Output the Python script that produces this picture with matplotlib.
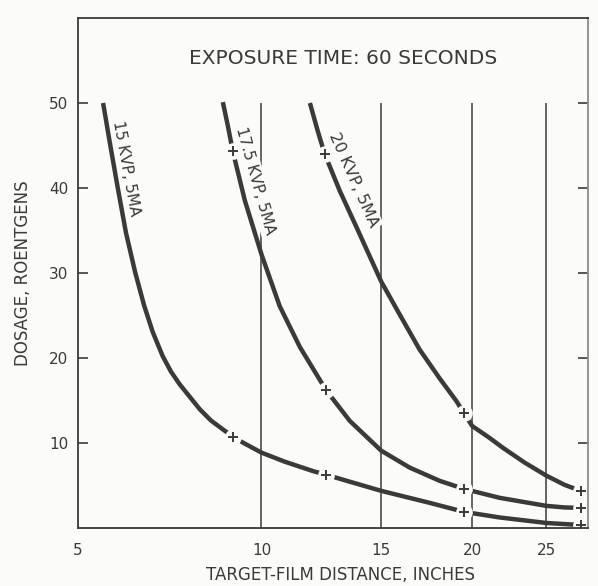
import numpy as np
import matplotlib
matplotlib.use("Agg")
import matplotlib.pyplot as plt
from matplotlib.ticker import NullLocator

# curva 15 KVP, 5 MA
x15 = [5.53, 5.68, 5.86, 6.05, 6.27, 6.49, 6.71, 6.97, 7.19, 7.43, 7.72, 8.01, 8.34,
       8.71, 9.03, 9.36, 10.0, 10.85, 11.95, 12.5, 15.0, 17.52, 19.5, 21.74, 25.0, 27.6]
y15 = [50.0, 45.3, 40.0, 34.75, 30.1, 26.2, 23.05, 20.2, 18.4, 16.9, 15.4, 13.95, 12.65,
       11.6, 10.76, 10.05, 8.87, 7.8, 6.7, 6.26, 4.37, 2.96, 1.9, 1.24, 0.59, 0.35]

# curva 17.5 KVP, 5 MA
x175 = [8.71, 8.87, 9.03, 9.43, 10.0, 10.66, 11.43, 12.5, 13.53, 15.0, 16.45, 18.08,
        19.5, 20.46, 21.74, 25.0, 26.35, 27.6]
y175 = [50.1, 47.3, 44.3, 38.5, 32.2, 26.1, 21.3, 16.2, 12.6, 9.1, 7.1, 5.55,
        4.6, 4.14, 3.55, 2.6, 2.42, 2.36]

# curva 20 KVP, 5 MA
x20 = [11.83, 12.15, 12.44, 13.08, 13.85, 15.0, 15.93, 16.97, 18.08, 19.06, 19.5, 20.0,
       21.09, 21.94, 23.43, 25.0, 26.35, 27.6]
y20 = [50.0, 46.7, 44.0, 39.7, 35.3, 29.0, 25.1, 21.0, 17.6, 14.9, 13.5, 12.0,
       10.6, 9.46, 7.7, 6.15, 5.08, 4.37]

# pontos medidos (+)
m15_x = [9.03, 12.5, 19.5, 27.6]
m15_y = [10.76, 6.26, 1.9, 0.35]
m175_x = [9.03, 12.5, 19.5, 27.6]
m175_y = [44.3, 16.2, 4.6, 2.36]
m20_x = [12.44, 19.5, 27.6]
m20_y = [44.0, 13.5, 4.37]

grade_x = [10, 15, 20, 25]
xticks = [5, 10, 15, 20, 25]
yticks = [10, 20, 30, 40, 50]

BG = '#fbfbf9'
INK = '#3a3a3a'


def fwd(x):
    return np.power(np.clip(x, 1e-6, None), 0.2)


def inv(y):
    return np.power(np.clip(y, 1e-6, None), 5.0)


fig = plt.figure(figsize=(5.98, 5.86), dpi=100, facecolor=BG)
ax = fig.add_axes([78 / 598, 1 - 528 / 586, 510 / 598, 510 / 586])
ax.set_facecolor(BG)
ax.set_xscale('function', functions=(fwd, inv))
ax.set_xlim(5, 28.2)
ax.set_ylim(0, 60)

# linhas verticais
ax.vlines(grade_x, 0, 50, colors=INK, lw=1.1, zorder=1)

# curvas
for xs, ys in [(x15, y15), (x175, y175), (x20, y20)]:
    ax.plot(xs, ys, color=INK, lw=3.2, solid_capstyle='butt', solid_joinstyle='round', zorder=3)

# marcadores com falha na curva
for mx, my in [(m15_x, m15_y), (m175_x, m175_y), (m20_x, m20_y)]:
    ax.plot(mx, my, 'o', ms=12, mfc=BG, mec='none', zorder=4)
    ax.plot(mx, my, '+', ms=7, mew=1.4, color=INK, zorder=5)

# rotulos das curvas
box = dict(fc=BG, ec='none', pad=1.5)
ax.text(6.05, 42.3, '15 KVP, 5MA', rotation=-79.6, rotation_mode='anchor',
        ha='center', va='center', fontsize=11, color=INK, bbox=box, zorder=2)
ax.text(9.8, 40.9, '17.5 KVP, 5MA', rotation=-74.3, rotation_mode='anchor',
        ha='center', va='center', fontsize=11, color=INK, bbox=box, zorder=2)
ax.text(13.7, 41.0, '20 KVP, 5MA', rotation=-66.2, rotation_mode='anchor',
        ha='center', va='center', fontsize=11.5, color=INK, bbox=box, zorder=2)

ax.text(0.52, 0.92, 'EXPOSURE TIME: 60 SECONDS', transform=ax.transAxes,
        ha='center', va='center', fontsize=14.5, color=INK)

ax.set_xticks(xticks)
ax.set_yticks(yticks)
ax.xaxis.set_minor_locator(NullLocator())
ax.yaxis.set_minor_locator(NullLocator())
ax.tick_params(axis='y', direction='in', length=7, width=1.2, right=True,
               pad=7, labelsize=11, colors=INK)
ax.tick_params(axis='x', length=0, pad=11, labelsize=11, colors=INK)

ax.set_xlabel('TARGET-FILM DISTANCE, INCHES', fontsize=12, color=INK, va='center')
ax.xaxis.set_label_coords(0.514, -0.092)
ax.set_ylabel('DOSAGE, ROENTGENS', fontsize=12, color=INK, va='center')
ax.yaxis.set_label_coords(-0.108, 0.5)

for lado, sp in ax.spines.items():
    sp.set_linewidth(1.3)
    sp.set_color(INK)
    sp.set_zorder(6)
ax.spines['right'].set_color('#8c8c8c')

fig.savefig('out.png', dpi=100, facecolor=BG)
